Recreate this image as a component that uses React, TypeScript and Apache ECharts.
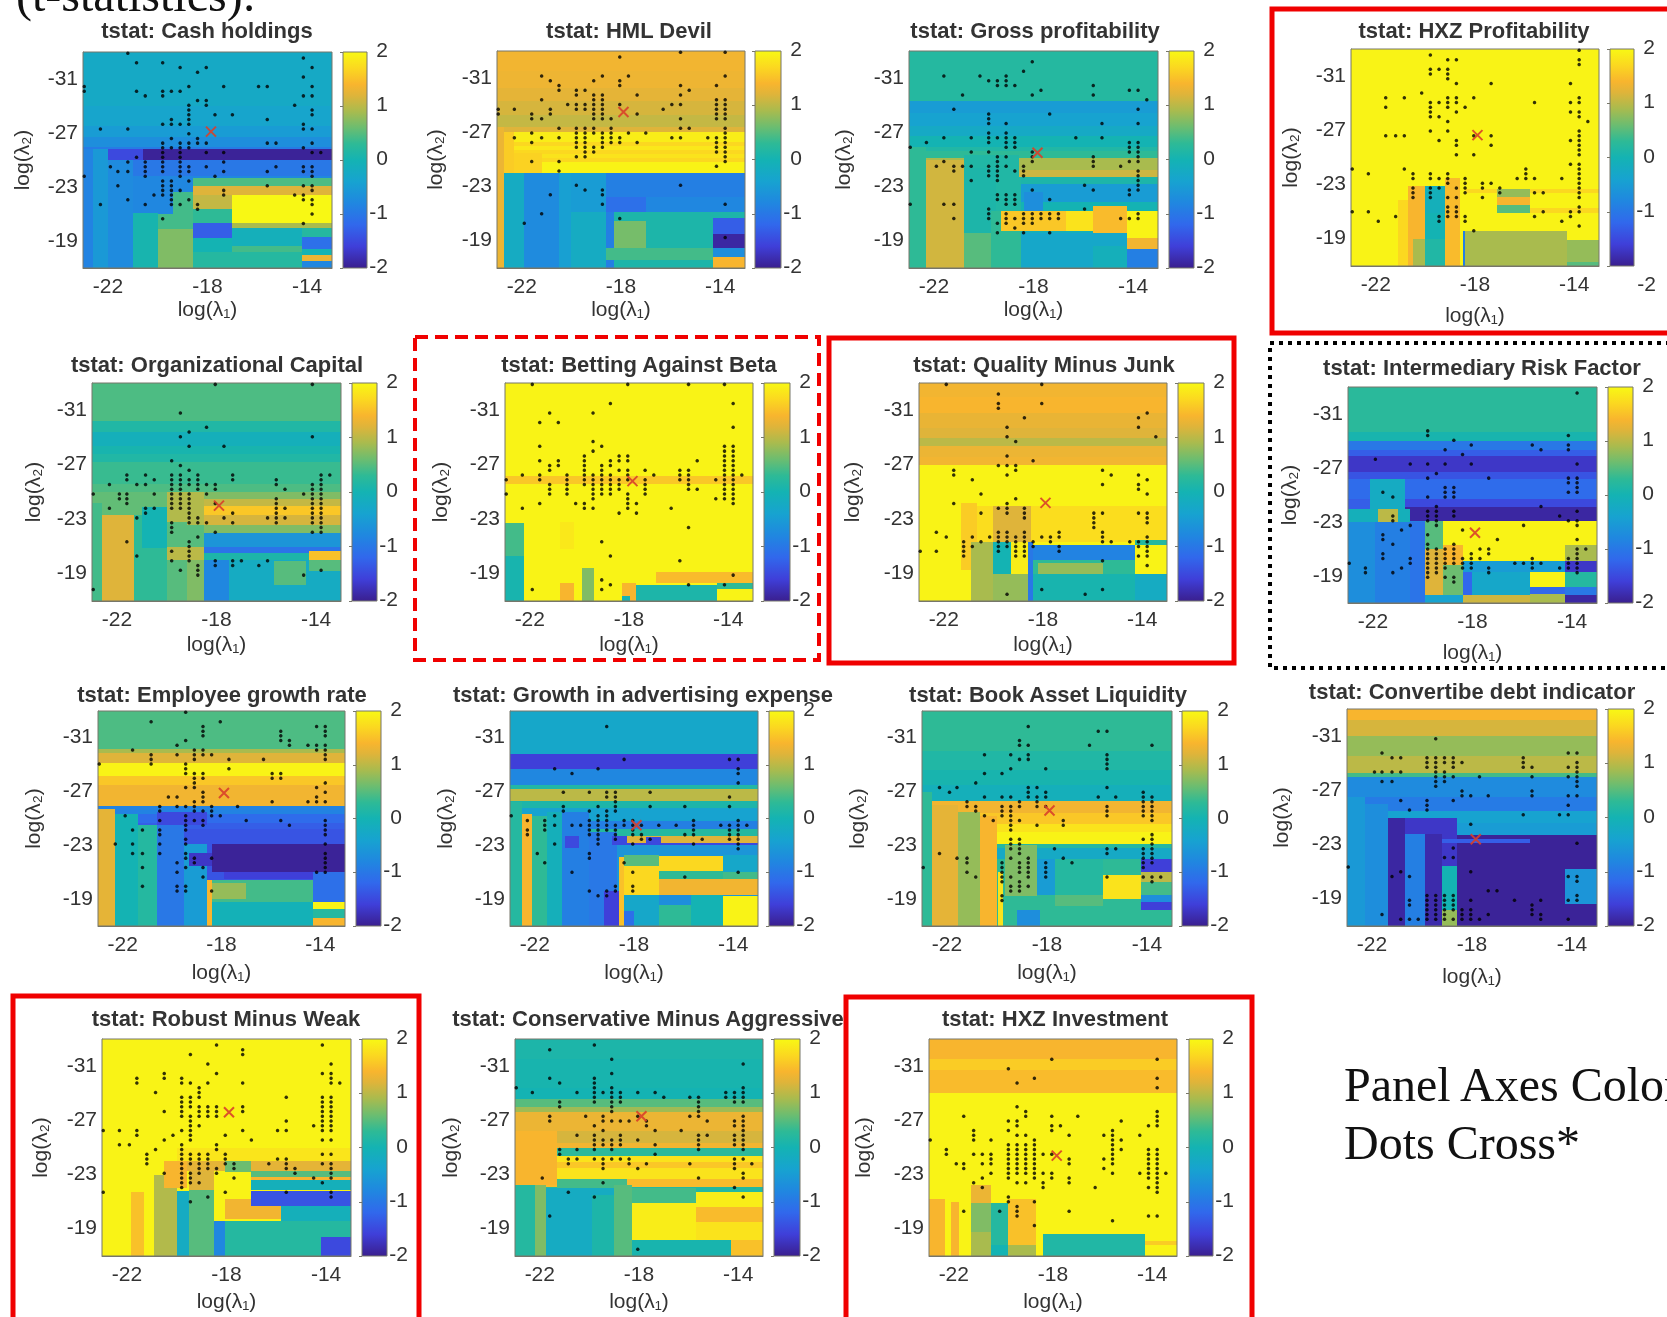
import React, { useEffect, useRef } from "react";
import * as echarts from "echarts";

// ---- shared sample grids of the two penalties (the dots sit on these) ----
const lambda1Grid = [-22.95,-22.6,-22.3,-21.9,-21.6,-21.2,-20.85,-20.5,-20.15,-19.8,-19.45,-19.1,-18.75,-18.4,-18.05,-17.7,-17.35,-17,-16.65,-16.3,-15.95,-15.6,-15.25,-14.9,-14.5,-14.15,-13.8,-13.45,-13.1];
const lambda2Grid = [-32.9,-32.55,-32.2,-31.85,-31.5,-31.15,-30.8,-30.45,-30.1,-29.75,-29.4,-29.05,-28.7,-28.35,-28,-27.65,-27.3,-26.95,-26.6,-26.25,-25.9,-25.55,-25.2,-24.85,-24.5,-24.15,-23.8,-23.45,-23.1,-22.75,-22.4,-22.05,-21.7,-21.35,-21,-20.65,-20.3,-19.95,-19.6,-19.25,-18.9,-18.55,-18.2,-17.85,-17.5,-17.15];
const xTicks = [-22, -18, -14];
const yTicks = [-31, -27, -23, -19];
const colorbarRange = [[0, 1, -2, 2]];
const colormap: [number, string][] = [[-2,"#3a1f8f"],[-1.6,"#3f3fd9"],[-1.2,"#3168ec"],[-0.8,"#2087e0"],[-0.4,"#17a3d0"],[0,"#14b3b3"],[0.3,"#2eba96"],[0.6,"#6cbd70"],[0.9,"#a9bb4e"],[1.2,"#dfb43a"],[1.4,"#f8b52e"],[1.7,"#fbd820"],[2,"#f8f814"]];

// ---- Cash holdings ----
const cashBands = [[-33,-0.25],[-29,-0.35],[-27.5,-0.5],[-26.7,-0.7],[-26,-0.95],[-25,-1.0],[-23.8,-0.8]];
const cashPatches = [[-23,-22.6,-25.8,-17,-0.85],[-22.6,-22,-25.8,-17,-0.55],[-22,-21,-25,-17,-0.75],[-22,-20.6,-25.8,-25,-1.5],[-20.6,-13,-25.8,-25,-1.95],[-21,-20,-21.1,-17,0.05],[-20,-18.6,-21,-17,0.4],[-20,-18.6,-19.9,-17,0.7],[-19.4,-18.6,-22.6,-21,0.4],[-18.6,-13,-23.7,-23.1,0.45],[-18.6,-13,-23.1,-22.4,1.2],[-18.6,-17,-22.4,-21.4,1.05],[-18.6,-17,-21.4,-20.3,0.3],[-18.6,-17,-20.3,-19.2,-1.3],[-18.6,-17,-19.2,-18.2,0],[-18.6,-17,-18.2,-17,0.2],[-17,-13,-22.4,-20.3,2],[-17,-13,-20.3,-20,0.9],[-17,-14.2,-20,-18.6,-0.1],[-17,-14.2,-18.6,-18.2,0.4],[-17,-14.2,-18.2,-17,0.2],[-14.2,-13,-20,-19.3,0.2],[-14.2,-13,-19.3,-18.4,-1.1],[-14.2,-13,-18.4,-18,0],[-14.2,-13,-18,-17.5,1.3],[-14.2,-13,-17.5,-17,-0.8]];
const cashDots = [[0,[5]],[1,[25]],[2,[6,9]],[3,[11,14,26]],[4,[13]],[5,[25]],[7,[0,12,16,20,21,26]],[8,[0,6,9,10,11]],[9,[7,9,25,26]],[10,[13,14]],[11,[12,14,24]],[12,[12,26]],[13,[12,15,17,26]],[14,[10,12,21]],[15,[9,10,11,12,25]],[16,[2,5,25,26]],[17,[12]],[18,[10,13]],[19,[9,11,12,13,14,21,22,26]],[20,[9,10,11,12,25]],[21,[9,11,14,16,26,27]],[22,[6,9,11]],[23,[5,7,9,11,16]],[24,[3,7,9,11,12,14,22,25,26]],[25,[4,5,7,9,11,12,16,21,25,26]],[26,[0,7,11,15,26]],[27,[9,10,12]],[28,[4,9,10,21,25,26]],[29,[9,10,11,16,26]],[30,[8,9,10,16,24,25]],[31,[5,10,12,25,26]],[32,[2,7,10,11,13,26]],[33,[13]],[34,[26]],[35,[9]],[36,[25]]];
const cashCross = [-17.86, -27.1];

// ---- HML Devil ----
const hmlBands = [[-33,1.35],[-31.5,1.32],[-30.3,1.25],[-29.3,1.15],[-28.3,1.05],[-27.4,1.2],[-27,1.9],[-26.3,1.7],[-26,1.85],[-25.7,1.7],[-25.4,1.8],[-25.1,1.7],[-24.8,1.95],[-24,-0.9]];
const hmlPatches = [[-22.7,-22.3,-27,-24,1.6],[-22.3,-21.2,-25.5,-24,1.65],[-23,-22.7,-27.4,-17,1.3],[-22.7,-21.9,-24,-17,-0.2],[-21.9,-20.5,-24,-17,-0.75],[-20.5,-20,-24,-17,-0.45],[-20,-18.6,-24,-21.1,-0.5],[-20,-18.6,-21.1,-17,-0.2],[-18.6,-13,-24,-22.2,-0.9],[-18.6,-17,-22.2,-21.1,-1.1],[-17,-13,-22.2,-21.1,-0.8],[-18.3,-14.3,-21.1,-17,0.1],[-18.3,-17,-20.5,-18.5,0.65],[-18.6,-14.3,-18.5,-17.6,0.4],[-14.3,-13,-21.1,-20.7,0.1],[-14.3,-13,-20.7,-19.5,-1.3],[-14.3,-13,-19.5,-18.5,-1.9],[-14.3,-13,-18.5,-17.8,-0.7],[-14.3,-13,-17.8,-17,1.4]];
const hmlDots = [[0,[21,26]],[1,[14]],[5,[5,12,15,26]],[6,[6,11,14]],[7,[7,14,21,25]],[8,[7,9,10,22]],[9,[9,11,12,16,21]],[10,[5,11,12,25,26]],[11,[8,9,10,11,12,14,20,21,25,26]],[12,[0,2,6,9,10,11,12,19,25,26]],[13,[0,4,6,11,12,16,25,26]],[14,[4,5,11,12,13,21,25,26]],[16,[7,9,10,11,13,21,22,26]],[17,[4,9,10,11,12,13,15,17,26]],[18,[2,5,7,9,10,12,13,14,20,21,24,25,26]],[19,[4,9,10,12,13,14,16,25,26]],[20,[9,10,11,12,25,26]],[21,[10,11,25,26]],[22,[9,10,26]],[23,[4,7,26]],[24,[25]],[25,[7]],[28,[9,21]],[29,[10,12]],[30,[6,12]],[32,[12,26]],[34,[5]],[35,[14]],[36,[3]],[39,[26]]];
const hmlCross = [-17.9, -28.5];

// ---- Gross profitability ----
const grossBands = [[-33,0.2],[-29.3,-0.5],[-28.4,-0.4],[-27.5,-0.25],[-26.75,0],[-25.9,0.15],[-25.6,0.3],[-25.1,0.9],[-24.2,1.1],[-23.7,0.1],[-23.2,-0.1]];
const grossPatches = [[-23,-22.3,-25.9,-17,0.3],[-20.8,-18.6,-25.3,-23.7,0.15],[-22.3,-20.8,-25,-17,1.12],[-20.8,-19.5,-24.4,-17,0.1],[-20.8,-19.7,-19.6,-17,0.5],[-19.7,-18.5,-21.2,-17,0.3],[-19.5,-18.5,-23.7,-21.2,0.15],[-18.5,-13,-23.2,-21.9,-0.5],[-18.5,-13,-21.9,-21.2,0],[-18.4,-17.6,-22.6,-21.2,-0.7],[-19.3,-15.6,-21.2,-19.7,1.55],[-16.7,-15.6,-21.2,-19.7,1.8],[-15.6,-14.25,-21.6,-19.6,1.45],[-14.25,-13,-21.2,-19.2,1.95],[-14.25,-13,-19.2,-18.4,1.35],[-14.25,-13,-18.4,-17,-0.9],[-18.5,-14.25,-19.6,-17,-0.3],[-15.6,-14.25,-18.6,-17,-0.1]];
const grossDots = [[2,[14]],[4,[13]],[5,[4,8,11]],[6,[9,10,11]],[7,[10,11,12,21]],[8,[15,25,26]],[9,[6,14,21]],[10,[27]],[12,[5,26]],[13,[9,16]],[14,[9]],[15,[9,11,22,26]],[17,[9,11]],[18,[4,7,9,10,11,12,19,22]],[19,[2,9,11,12,25,26]],[20,[0,11,12,25,26]],[21,[7,9,14,25,26]],[22,[10,11,14,21,26]],[23,[4,10,14,21,25,26]],[24,[3,5,6,7,9,10,11,13,21,24]],[25,[5,9,10,12,13,26]],[26,[9,10,13,26]],[27,[7,10,26]],[28,[20,26]],[29,[14,21,25,26]],[30,[10,11,12,25]],[31,[10,11,12,16]],[32,[0,4,5,11,12]],[33,[9,20]],[34,[9,11,13,14,15,16,17,26]],[35,[5,9,11,12,13,14,15,16,17,24,25,26]],[36,[10,11,13,14]],[37,[12]],[38,[10,13,16]]];
const grossCross = [-17.84, -25.5];

// ---- HXZ Profitability ----
const hxzProfBands = [[-33,1.95]];
const hxzProfPatches = [[-20.7,-20,-22.9,-17,1.4],[-21.1,-20.7,-21.9,-17,1.7],[-20,-19.2,-22.9,-20.9,-0.1],[-20,-19.2,-20.9,-19,0],[-20,-19.2,-19,-17,0.15],[-20.5,-20,-19,-17,0.9],[-19.2,-18.6,-23.5,-17,1.45],[-18.5,-18.4,-19.6,-17,-0.9],[-18.4,-14.3,-19.6,-17,0.9],[-14.3,-13,-18.9,-17.3,0.8],[-14.3,-13,-17.3,-17,0.5],[-18.4,-13,-22.7,-22.4,1.7],[-15.8,-13,-21.3,-20.9,1.7],[-17.1,-15.8,-22.7,-22.1,0.8],[-17.1,-15.8,-22.1,-21.5,1.4],[-17.1,-15.8,-21.5,-20.9,0.5]];
const hxzProfDots = [[0,[26]],[1,[9]],[2,[11,12,26]],[3,[26]],[4,[9,10,11]],[5,[9,11]],[6,[11]],[7,[12,16,25]],[9,[8]],[10,[4,6,11,12,14,26]],[11,[9,10,11,12,21,25,26]],[12,[4,9,11,13]],[13,[9,12,25,26]],[14,[9,10,26]],[15,[11,27]],[17,[9,11,26]],[18,[4,5,6,14,16,26]],[19,[10,12,25,26]],[20,[12,16,26]],[21,[26]],[22,[12,14,26]],[24,[25,26]],[25,[0,6,20,26]],[26,[2,7,9,11,20,26]],[27,[7,9,10,11,13,19,20,21,24,26]],[28,[11,13,15,16,26]],[29,[7,9,10,12,13,15,17,26]],[30,[7,9,13,17,21,22,26]],[31,[7,9,11,12,15,26]],[33,[11,12,26]],[34,[0,2,11,12,22,25,26]],[35,[5,10,11,12,13,21,25]],[36,[3,10,13,24]],[37,[26]],[38,[14]]];
const hxzProfCross = [-17.9, -26.65];

// ---- Organizational Capital ----
const orgBands = [[-33,0.45],[-30.2,0.15],[-29.4,-0.1],[-28.4,0.05],[-27.8,0.15],[-27.2,0.35],[-25.6,0.45],[-25,0.7],[-24.5,1.05],[-24,1.55],[-23.3,1.15],[-22.6,0.7],[-22,-0.6],[-21,-1.05],[-20.5,0.1],[-19.7,-0.1]];
const orgPatches = [[-23,-20,-25,-22.6,0.55],[-20,-18.5,-25,-22.6,0.95],[-23,-22.6,-24.2,-17,0.4],[-22.6,-21.3,-23.3,-17,1.2],[-21.3,-20,-23.3,-17,0.3],[-21,-20,-23.9,-20.9,0],[-20,-19.2,-22.8,-17,0.5],[-19.2,-18.5,-22.6,-21,0.5],[-20,-18.5,-21,-20,1.0],[-19.2,-18.5,-20,-17,0.7],[-18.5,-17.5,-20,-17,-0.8],[-17.5,-13,-20,-17,-0.2],[-15.7,-14.4,-19.9,-18.2,0.5],[-14.3,-13,-20.7,-20,1.5],[-14.3,-13,-20,-19.2,0.5]];
const orgDots = [[0,[14,25]],[6,[10]],[9,[13]],[10,[11]],[11,[10,25]],[13,[11,15]],[16,[9]],[17,[10]],[18,[11]],[19,[4,6,9,10,12,16,26,27]],[20,[4,7,9,10,11,12,16,21,26]],[21,[2,5,6,9,10,11,12,13,14,21,25,26]],[22,[9,10,12,14,22,25,26]],[23,[0,3,4,7,9,10,11,13,24,25,26]],[24,[3,4,9,10,11,21,25,26]],[25,[4,9,10,11,14,21,25,26]],[26,[2,6,7,9,10,11,21,22,25,26]],[27,[6,11,16,21,25,26]],[28,[5,11,12,15,20,21,22,25,26]],[29,[9,11,12,13,16,21,25,26]],[30,[9,26]],[31,[9,14,25,26]],[32,[12]],[33,[4,11]],[34,[11]],[35,[9,11]],[36,[5,11]],[37,[9,11,14,16,17,20]],[38,[12,14,16,19]],[39,[10,12,26]],[40,[12,24]],[43,[0]]];
const orgCross = [-17.9, -24];

// ---- Betting Against Beta ----
const babBands = [[-33,1.95],[-26.2,1.55],[-25.6,1.95]];
const babPatches = [[-23,-22.25,-22.75,-20.3,0.4],[-23,-22.25,-20.3,-17,0.05],[-20.8,-20.2,-18.3,-17,1.4],[-20.8,-20.2,-22.8,-20.8,1.85],[-19.9,-19.4,-19.4,-17,0.7],[-18.3,-17.7,-18.3,-17,1.4],[-18.3,-17.95,-17.4,-17,0],[-17.7,-14.45,-18.2,-17,0.1],[-16.9,-13,-19.1,-18.3,1.45],[-14.45,-13,-18.3,-17.9,0.3]];
const babDots = [[0,[3,14,21,25]],[4,[12,26]],[6,[5,10]],[8,[4,6]],[9,[26]],[12,[10]],[13,[4,11,25,26]],[14,[10,25,26]],[15,[9,13,14,25,26]],[16,[4,6,9,12,13,14,22,25,26]],[17,[5,6,9,11,12,25,26]],[18,[5,9,11,13,14,16,20,21,25,26]],[19,[2,4,7,9,10,11,12,14,17,20,21,25,26,27]],[20,[0,4,7,9,10,11,12,13,14,16,20,21,24,25,26]],[21,[5,7,9,10,11,12,13,16,21,25,26]],[22,[5,7,10,11,12,13,16,21,22,25,26]],[23,[0,5,7,10,11,12,14,16,25,26]],[24,[10,14,24,25,26]],[25,[4,8,9,14,15,26]],[26,[2,9,10,14,19]],[27,[13,15]],[30,[21]],[33,[11]],[36,[12]],[37,[20]],[40,[26]],[41,[11]],[42,[12,21,25]],[43,[3,11]]];
const babCross = [-17.86, -25.8];

// ---- Quality Minus Junk ----
const qmjBands = [[-33,1.35],[-32,1.4],[-30.8,1.28],[-29.7,1.2],[-29,1.0],[-28.4,1.3],[-27.6,1.35],[-27,1.95],[-24,1.75],[-21.3,1.95]];
const qmjPatches = [[-23,-21.3,-24,-17,1.95],[-21.3,-20.65,-24.2,-19.3,1.6],[-20.9,-19.9,-21.3,-17,0.9],[-20,-18.5,-24,-21.3,1.2],[-20,-19.3,-21.3,-19,0],[-19.3,-18.6,-21.3,-17,1.9],[-20,-18.6,-19,-17,0.8],[-18.6,-18.4,-21.3,-17,-1.0],[-18.4,-14.3,-21.1,-20,-0.85],[-18.4,-14.3,-20,-19,0.3],[-18.2,-15.6,-19.8,-19,0.8],[-18.4,-14.3,-19,-17,0.05],[-14.3,-13,-21.5,-21.1,0.2],[-14.3,-13,-21.1,-19,1.95],[-14.3,-13,-19,-17,-0.2]];
const qmjDots = [[0,[3,14]],[2,[9]],[4,[9,14]],[5,[9]],[6,[26]],[7,[12,25]],[9,[10,25]],[11,[10,27]],[12,[11]],[15,[10]],[16,[13]],[17,[9,10,11]],[18,[4,11,21]],[19,[4,10,22,25]],[20,[6,26]],[21,[21,25]],[22,[25]],[23,[7,26]],[24,[11]],[25,[4,10]],[26,[9,10,12]],[27,[7,10,12,20,21,25,26]],[28,[12,20,26]],[29,[20,26]],[30,[20]],[31,[2,9,10,12,16,21]],[32,[3,6,8,9,10,11,12,14,15,16,21,26]],[33,[5,7,9,10,11,12,13,15,21,22,24,25,26]],[34,[5,6,9,10,11,12,13,16,25,26]],[35,[0,2,5,9,11,12,16,26]],[36,[5,11,12,25,26]],[37,[21]],[38,[26]],[43,[14,21]],[44,[10,19]]];
const qmjCross = [-17.9, -24.2];

// ---- Intermediary Risk Factor ----
const irfBands = [[-33,0.25],[-29.7,0.05],[-29,-1.0],[-28.3,-1.3],[-27.9,-1.7],[-26.7,-1.4],[-26.2,-1.15],[-24.7,-1.5],[-24.1,-1.9],[-23.1,-0.9]];
const irfPatches = [[-22.1,-20.7,-26.2,-24,-0.2],[-23,-22.1,-24.7,-24,-1.3],[-23,-20.5,-24,-23,-0.1],[-21.8,-21,-24,-23,1.0],[-23,-21.9,-23,-17,-0.7],[-21.9,-20.5,-23,-17,-0.9],[-20.5,-19.9,-23,-17,-1.05],[-19.9,-19.2,-23.1,-21,0.5],[-19.9,-19.2,-21,-17.6,1.2],[-19.2,-18.4,-21.3,-19.8,1.4],[-19.2,-18.4,-19.8,-17.6,0.6],[-19.2,-13,-23.1,-21.3,1.95],[-18.4,-14.3,-21.3,-20.1,1.95],[-14.3,-13,-21.3,-20.1,0.9],[-18.4,-13,-20.1,-19.3,-0.5],[-14.3,-13,-20.1,-19.3,-1.7],[-18.4,-18,-19.3,-17.6,-1.2],[-18,-15.7,-19.3,-17.6,-0.3],[-15.7,-14.3,-19.3,-18.2,1.95],[-15.7,-14.3,-18.2,-17.7,-1.2],[-14.3,-13,-19.3,-18.2,0.2],[-14.3,-13,-18.2,-17.6,-1.0],[-14.3,-13,-17.6,-17,-1.9],[-19.9,-18.4,-17.6,-17,-0.4],[-18.4,-15.7,-17.6,-17,1.1],[-15.7,-14.3,-17.7,-17,0.9]];
const irfDots = [[1,[26]],[9,[9]],[10,[9,25]],[11,[12]],[12,[14,21,25]],[13,[11,22,25]],[14,[13]],[15,[3]],[16,[7,9,11,14,26]],[18,[10]],[19,[9,16,25,26]],[20,[25,26]],[21,[11,12,26]],[22,[4,11,12,25,26]],[23,[5,9,11,12]],[25,[10,22]],[26,[9,10,12,26]],[27,[5,9,10,12,24]],[28,[5,9,10,25,26]],[29,[7,10,20,26]],[30,[6,13]],[31,[4,9]],[32,[4,17,26]],[33,[5,9,12]],[34,[9,10,11,12,15,16,26,27]],[35,[4,9,10,11,12,14,16,26]],[36,[4,7,9,10,11,12,13,14,15,21,25,26]],[37,[0,7,9,10,11,12,13,14,19,20,21,22,25,26]],[38,[2,6,9,10,11,13,14,16,21,24,25,26]],[39,[2,5,9,10,16,26]],[40,[9,11,12]],[41,[12]]];
const irfCross = [-17.9, -22.2];

// ---- Employee growth rate ----
const empBands = [[-33,0.45],[-30.2,0.9],[-29.9,1.2],[-29.1,1.95],[-28.2,1.55],[-27.5,1.35],[-25.9,-0.85],[-25.3,-1.15],[-24.7,-1.3],[-24.2,-1.4]];
const empPatches = [[-23,-22.3,-25.7,-17,1.25],[-22.3,-21.4,-25.3,-17,0],[-21.4,-20.6,-24.5,-17,0.2],[-20.6,-19.5,-25.5,-17,-1.0],[-19.5,-18.6,-23.1,-17,-0.5],[-20.6,-18.6,-25.5,-24.5,-1.5],[-19.3,-18.4,-22.4,-21.5,-1.7],[-18.4,-13,-23.1,-21,-1.95],[-17.9,-13,-21,-20.5,-1.6],[-18.6,-14.3,-20.4,-18.8,0.4],[-18.6,-17,-20.2,-19,0.8],[-18.6,-14.3,-18.8,-17,-0.05],[-18.6,-18.4,-20.4,-17,1.4],[-14.3,-13,-21,-18.8,-1.1],[-14.3,-13,-18.8,-18.3,1.95],[-14.3,-13,-18.3,-17.6,0.2],[-14.3,-13,-17.6,-17,1.4]];
const empDots = [[0,[10]],[2,[6,14]],[3,[12,25,26]],[4,[12,21,26]],[5,[12,21,26]],[6,[10,21,22]],[7,[9,22,24,25,26]],[8,[4,11,12,25,26]],[9,[6,9,11,12,13,26]],[10,[6,11,15,19,26]],[11,[0,6,10]],[12,[10,15]],[13,[10,11,12,20,21]],[14,[11,12,20,21]],[15,[11,26]],[16,[10,11,25]],[17,[12,26]],[18,[8,9,12,25]],[19,[11,12,20,24,25,26]],[20,[7,9,10,11,13,16]],[21,[7,11,12,13]],[22,[3,10,13,14]],[23,[7,10,11,12,17,21,26]],[24,[10,12,22,26]],[25,[4,5,7,10,26]],[26,[7,26]],[27,[10]],[28,[2,4,7,10,26]],[30,[4,5,7,10,26]],[31,[10,11,13,26]],[32,[9,11,26]],[33,[5,10,12,26]],[34,[9,25,26]],[35,[12]],[37,[5,9,10]],[38,[9,10,13]]];
const empCross = [-17.9, -26.9];

// ---- Growth in advertising expense ----
const advBands = [[-33,-0.3],[-29.8,-1.6],[-28.7,-0.8],[-27.5,0.15],[-27.2,1.0],[-26.3,0.1],[-25.8,-0.4],[-24.8,-0.9],[-24.2,0.2],[-23.7,1.2],[-23.2,-1.5],[-23,-0.6]];
const advPatches = [[-23,-22.5,-26.2,-17,0.2],[-22.5,-22.1,-25.3,-17,1.4],[-22.1,-21.5,-25.2,-17,0.3],[-21.5,-20.9,-25.5,-17,-0.1],[-20.9,-19.8,-25.5,-17,-0.9],[-20.8,-20.2,-23.7,-22.8,-1.5],[-19.8,-18.7,-24,-17,-1.0],[-19.2,-18.5,-19.6,-17,-1.6],[-18.6,-18.4,-22.1,-17,1.5],[-18.9,-18.3,-23.7,-23,-1.5],[-17.5,-16.9,-23.6,-23,-1.5],[-18.4,-17,-22.3,-21.5,0.5],[-17,-14.4,-22.2,-21.1,1.7],[-14.4,-13,-22.3,-21,-0.3],[-18.4,-17,-21.5,-19.3,1.7],[-17,-13,-20.5,-19.3,1.35],[-17,-14.4,-21.1,-20.5,0.3],[-14.4,-13,-21,-20.5,0.4],[-18.4,-17,-19.3,-17,-0.3],[-17,-15.7,-19.3,-18.6,-0.7],[-17,-15.7,-18.6,-17,0.3],[-15.7,-14.4,-19.3,-17,0],[-14.4,-13,-19.2,-17,1.95],[-18.4,-18,-18.1,-17,-1.1]];
const advDots = [[3,[11]],[10,[13,25,26]],[12,[5,10,26]],[13,[7,26]],[15,[26]],[17,[6,9,11,12,16]],[18,[11,12,25]],[19,[12]],[20,[6,10,12,16,20,25]],[21,[6,9,11,12]],[22,[0,5,10,11]],[23,[2,4,9,10,11,13,14,21,26]],[24,[4,5,7,8,9,10,11,12,13,14,15,17,19,21,24,25,26,27]],[25,[2,4,9,10,11,12,14,21,25,26]],[26,[2,9,10,12,14,15,20,21,25,26]],[27,[10,12,15,16,22,25,26]],[28,[5,10,14,21,26]],[29,[26]],[30,[3,9]],[31,[9]],[32,[4,13]],[34,[7,14,26]],[35,[20]],[37,[12,14]],[38,[9,11,12,14]],[39,[10,11]]];
const advCross = [-17.9, -24.5];

// ---- Book Asset Liquidity ----
const bookBands = [[-33,0.3],[-30,0.15],[-28.6,0.05],[-27.5,-0.1],[-26.3,1.35],[-25.4,1.55],[-24.6,1.8],[-24,1.95],[-23.1,0.2],[-22.8,-0.25],[-22,0.3]];
const bookPatches = [[-23,-22.6,-27,-17,0.3],[-22.6,-21.55,-26,-17,1.25],[-21.55,-20.7,-25.5,-17,0.8],[-20.7,-20,-25.2,-17,1.4],[-19.95,-19.75,-21,-17,1.8],[-19.7,-18.4,-23,-19.2,0.7],[-19.7,-18.4,-19.2,-18.2,0.3],[-19.2,-18.3,-18.2,-17,-0.7],[-18.4,-17.7,-22,-19.3,-0.5],[-17.7,-15.75,-22,-19.3,0.2],[-17.7,-15.75,-19.3,-18.5,0.5],[-15.75,-14.25,-20.8,-19,1.8],[-18.3,-14.25,-18.2,-17,0.3],[-14.25,-13,-22,-21,-1.6],[-14.25,-13,-21,-20.3,1.0],[-14.25,-13,-20.3,-19.3,0.4],[-14.25,-13,-19.3,-18.8,-0.7],[-14.25,-13,-18.8,-18.2,-1.6],[-14.25,-13,-18.2,-17,0.3]];
const bookDots = [[3,[12]],[4,[20,21]],[6,[11]],[7,[11,12,19,26]],[9,[7,10,12,21]],[10,[11,12,21]],[11,[21]],[12,[10,14,21]],[13,[7,9]],[15,[6]],[16,[2,4,12,13,21]],[17,[3,12,14,25]],[18,[7,9,10,12,13,14,20,22,25,26]],[19,[5,11,13,25,26]],[20,[5,6,9,10,11,13,14,21,25,26]],[21,[6,9,10,21,25,26]],[22,[7,9,10,21,25,26]],[23,[8,10,11,16,26]],[24,[10,13,16]],[25,[10]],[26,[26]],[27,[10,11,25,26]],[28,[10,11,26]],[29,[10,11,15,21,22,25,26]],[30,[2,11,21,25,26]],[31,[4,5,10,12,16,25,26]],[32,[5,9,11,12,14,17,25,26]],[33,[0,9,11,12,14,25]],[34,[5,9,11,12,14]],[35,[6,9,10,12,14,21,25,26,27]],[36,[9,11,26]],[37,[10,11,12]],[38,[10,11]],[39,[9]],[40,[9]]];
const bookCross = [-17.9, -25.6];

// ---- Convertibe debt indicator ----
const convBands = [[-33,1.4],[-32.2,1.15],[-31,0.8],[-29.5,1.0],[-28.3,0.4],[-28,-0.75],[-26.5,-0.95],[-25.5,-0.4],[-24.6,-0.5]];
const convPatches = [[-23,-22.3,-26.5,-17,-0.55],[-22.3,-21.35,-26,-17,-0.7],[-21.35,-20.7,-25,-17,-1.9],[-20.7,-19.9,-24.2,-17,-0.9],[-20.7,-18.6,-25,-23.8,-1.7],[-19.9,-19.2,-23.8,-17,-1.85],[-19.2,-18.6,-23.8,-21.4,-1.7],[-19.2,-18.6,-21.4,-18.2,0],[-19.2,-18.6,-18.2,-17,0.8],[-18.6,-13,-23.7,-17,-1.95],[-19.2,-15.7,-23.4,-23.15,-1.3],[-14.3,-13,-21.2,-18.6,-0.6]];
const convDots = [[6,[10]],[9,[4,25,26]],[10,[5,6,9,10,11,12,20]],[11,[9,10,11,12,13,20,26]],[12,[9,10,12,20,21,25,26]],[13,[3,4,5,6,10,11,26]],[14,[10,11,12,15,21,25,26]],[15,[4,5,10,11,26]],[16,[10,26]],[17,[13,21]],[18,[13,14,16,21,25,26]],[19,[6,9,12]],[20,[9,25]],[21,[7,9]],[22,[20,24,25]],[24,[14]],[28,[26]],[29,[12]],[31,[11,12]],[33,[0]],[34,[6,14]],[35,[5,7,25,26]],[36,[26]],[38,[16,17]],[39,[9,10,11,12,26]],[40,[7,9,10,11,12,14,19,22,25,26]],[41,[7,9,10,11,12,21]],[42,[9,10,11,12,13,14,21]],[43,[4,9,10,11,13,14,16,21,22]],[44,[6,7,8,9,10,11,12,13,14,15,22,25]]];
const convCross = [-17.85, -23.4];

// ---- Robust Minus Weak ----
const rmwBands = [[-33,1.95]];
const rmwPatches = [[-21.85,-21.3,-21.7,-17,1.5],[-20,-13,-25,-24,1.82],[-20.5,-13,-24,-23.3,1.25],[-17,-13,-23.3,-22.8,0.5],[-17,-13,-22.8,-22.6,1.4],[-20.9,-20,-23,-17,0.95],[-20.5,-19.6,-24,-22,1.4],[-20,-19.5,-21.8,-17,-0.2],[-19.5,-18.5,-22.3,-17,0.5],[-19.5,-18.5,-23.3,-21.9,1.2],[-18.5,-17,-23,-21.8,1.95],[-18.05,-17,-24,-23.2,0.6],[-18.05,-15.8,-21.2,-19.7,1.35],[-18.5,-18.05,-19.6,-17,-0.8],[-18.05,-13,-19.6,-17,0.2],[-17,-13,-22.6,-21.9,-0.1],[-17,-13,-21.8,-20.7,-1.4],[-15.8,-13,-20.7,-19.6,-0.1],[-14.2,-13,-18.4,-17,-1.5]];
const rmwDots = [[1,[13,25]],[2,[16]],[3,[10,16]],[5,[12,26]],[7,[7,13,25,26]],[8,[4,7,9,26]],[9,[4,9,10,12,16,26,27]],[10,[11]],[11,[6,11]],[12,[9,10,11,21,25,26]],[13,[9,10,25,26]],[14,[9,10,11,12,13,16,25,26]],[15,[7,9,11,12,13,16,25,26]],[16,[9,10,11,12,13,25,26]],[17,[10,21,25,26]],[18,[10,11,24,25,26]],[19,[0,2,4,9,10,16,20,21,25,26]],[20,[4,8,10,14]],[21,[7,10,17,25,26]],[22,[2,3,9,13]],[23,[6,9,13]],[24,[5,9,10,11,12,14,25,26]],[25,[5,9,10,11,12,14,20,21]],[26,[5,9,10,11,12,14,15,19,21,25,26]],[27,[9,11,12,13,15,21,22,26]],[28,[7,9,10,11,13,22,26]],[29,[9,10,15,24,26]],[30,[9,10,11,25]],[31,[9]],[32,[0,14,21,26]],[33,[12,26]],[34,[10]]];
const rmwCross = [-17.9, -27.6];

// ---- Conservative Minus Aggressive ----
const cmaBands = [[-33,0.1],[-31.5,0.05],[-29.4,0],[-28.6,0.5],[-28,0.85],[-27.6,1.3],[-26.2,1.15],[-25.3,1.35],[-25,0.25],[-24.4,1.8],[-23.9,1.55],[-23.5,1.8],[-22.7,1.45],[-22.1,0.2],[-21.7,1.9]];
const cmaPatches = [[-23,-21.3,-26.2,-22.2,1.4],[-23,-22.2,-22.2,-17,0.2],[-22.2,-21.75,-22.2,-17,0.7],[-21.75,-19,-22,-17,-0.2],[-19.9,-19,-21.5,-17,0.1],[-21.3,-18.5,-22.7,-22,0.4],[-19,-18.3,-22.2,-17,0.5],[-18.3,-15.7,-22,-20.9,0.4],[-18.3,-15.7,-20.9,-18.2,1.9],[-15.7,-13,-21.5,-20.6,1.9],[-15.7,-13,-20.6,-19.5,1.45],[-15.7,-13,-19.5,-18.2,1.8],[-18.3,-14.3,-18.2,-17,0.05],[-14.3,-13,-18.2,-17,1.5]];
const cmaDots = [[1,[9]],[2,[4]],[4,[11]],[5,[26]],[7,[11]],[8,[4,9]],[9,[5,9]],[10,[0,9,11,26]],[11,[2,7,9,10,11,12,14,16,24,25,26]],[12,[9,11,12,17,20,21,24,25,26]],[13,[5,9,11,12,21,25,26]],[14,[5,11,21]],[15,[11,21]],[16,[4,8,10,14,20,21,26]],[17,[4,10,11,12,13,15,22,25,26]],[18,[9,15,25,26]],[19,[10,16,19,26]],[20,[7,9,12,21,22,25,26]],[21,[9,10,11,12,14,21,25,26]],[22,[9,10,11,12,16,21,25,26]],[23,[5,7,9,11,21,26]],[24,[5,16]],[25,[6,7,9,10,11,12,13,25,26]],[26,[6,10,13,15,20,25,27]],[27,[10,14,25]],[28,[26]],[29,[3,21,26]],[30,[10]],[31,[25]],[32,[6]],[33,[9,26]],[37,[4]],[44,[14]]];
const cmaCross = [-17.9, -27.3];

// ---- HXZ Investment ----
const hxzInvBands = [[-33,1.4],[-31.5,1.6],[-30.7,1.45],[-29,1.95]];
const hxzInvPatches = [[-23,-22.35,-21.2,-17,1.4],[-22.1,-21.8,-21,-17,1.4],[-21.3,-20.5,-22.2,-17,1.3],[-21.3,-19.8,-20.9,-18.8,0.7],[-20.5,-19.8,-20.9,-17.8,0.2],[-21.3,-20.5,-18.8,-17,0.9],[-20.5,-19.8,-17.8,-17,0],[-19.8,-18.7,-21.2,-17.8,1.5],[-19.8,-18.7,-17.8,-17,0.9],[-18.4,-14.3,-18.6,-17,0.15],[-14.3,-13,-18.1,-17.8,1.6]];
const hxzInvDots = [[4,[14,26]],[6,[9]],[8,[12,26]],[9,[10]],[10,[26]],[14,[10]],[15,[11,26]],[16,[4,11,14,17,26]],[17,[9,10,22,26]],[18,[10,14,15,25,26]],[19,[5,9,14,21]],[20,[5,10,11,16,20,21,24]],[21,[0,5,7,12,21,22]],[22,[9,10,11,12,21]],[23,[2,9,10,11,12,21,22,25,26]],[24,[2,5,6,7,9,10,11,12,13,14,21,25,26]],[25,[7,9,10,11,12,16,20,21,25,26]],[26,[3,4,6,7,9,10,11,12,16,21,25,26]],[27,[4,9,10,11,12,20,25,26]],[28,[7,9,10,11,12,13,14,21,24,25,26,27]],[29,[6,9,12,14,16,25,26]],[30,[5,10,11,13,16,26]],[31,[6,13,19,25,26]],[32,[26]],[33,[9]],[34,[9,12]],[35,[10]],[36,[4,8,10,16]],[37,[10,25,26]],[38,[21]],[39,[12]]];
const hxzInvCross = [-17.85, -24.4];

const panelContent: any[] = [
  ["tstat: Cash holdings", cashBands, cashPatches, cashDots, cashCross],
  ["tstat: HML Devil", hmlBands, hmlPatches, hmlDots, hmlCross],
  ["tstat: Gross profitability", grossBands, grossPatches, grossDots, grossCross],
  ["tstat: HXZ Profitability", hxzProfBands, hxzProfPatches, hxzProfDots, hxzProfCross],
  ["tstat: Organizational Capital", orgBands, orgPatches, orgDots, orgCross],
  ["tstat: Betting Against Beta", babBands, babPatches, babDots, babCross],
  ["tstat: Quality Minus Junk", qmjBands, qmjPatches, qmjDots, qmjCross],
  ["tstat: Intermediary Risk Factor", irfBands, irfPatches, irfDots, irfCross],
  ["tstat: Employee growth rate", empBands, empPatches, empDots, empCross],
  ["tstat: Growth in advertising expense", advBands, advPatches, advDots, advCross],
  ["tstat: Book Asset Liquidity", bookBands, bookPatches, bookDots, bookCross],
  ["tstat: Convertibe debt indicator", convBands, convPatches, convDots, convCross],
  ["tstat: Robust Minus Weak", rmwBands, rmwPatches, rmwDots, rmwCross],
  ["tstat: Conservative Minus Aggressive", cmaBands, cmaPatches, cmaDots, cmaCross],
  ["tstat: HXZ Investment", hxzInvBands, hxzInvPatches, hxzInvDots, hxzInvCross],
];

// layout only: left, top, right, bottom, colorbar left, colorbar right, title x, title y, x-name offset, y-name offset
const layout = [
  [83,52,332,268,343,367,207,31,40,61],
  [497,51,745,268,755,781,629,31,40,62],
  [909,51,1158,268,1169,1194,1035,31,40,66],
  [1351,49,1599,266,1610,1634,1474,31,48,61],
  [92,383,341,601,352,377,217,365,42,59],
  [505,383,753,601,764,790,639,365,42,65],
  [919,383,1167,601,1178,1204,1044,365,42,67],
  [1348,387,1597,603,1608,1633,1482,368,48,59],
  [98,711,345,926,356,381,222,695,45,65],
  [510,711,758,926,769,794,643,695,45,65],
  [922,711,1172,926,1182,1208,1048,695,45,65],
  [1347,709,1597,926,1608,1634,1472,692,49,66],
  [102,1039,351,1256,362,387,226,1019,44,62],
  [515,1039,763,1256,774,800,648,1019,44,65],
  [929,1039,1177,1256,1189,1213,1055,1019,44,66],
];

const SANS = '"Liberation Sans", Arial, sans-serif';
const SERIF = '"Liberation Serif", "Times New Roman", serif';
const INK = "#333333";
const EDGE = "#77776a";

const rgb = (h: string) => [1, 3, 5].map((i) => parseInt(h.slice(i, i + 2), 16));
function colorOf(v: number) {
  for (let i = 1; i < colormap.length; i++) {
    if (v <= colormap[i][0]) {
      const [a, ca] = colormap[i - 1];
      const [b, cb] = colormap[i];
      const t = Math.max(0, (v - a) / (b - a));
      const A = rgb(ca), B = rgb(cb);
      return `rgb(${A.map((x, j) => Math.round(x + (B[j] - x) * t)).join(",")})`;
    }
  }
  return colormap[colormap.length - 1][1];
}

function cells(bands: number[][], patches: number[][]) {
  const rows = bands.map((b, i) => [-23, -13, b[0], i + 1 < bands.length ? bands[i + 1][0] : -17, b[1]]);
  return [...rows, ...patches];
}
function expandDots(rows: any[]) {
  return rows.flatMap(([r, ks]: any) => ks.map((k: number) => [lambda1Grid[k], lambda2Grid[r]]));
}
function rectFrom(api: any) {
  const a = api.coord([api.value(0), api.value(2)]);
  const b = api.coord([api.value(1), api.value(3)]);
  const x0 = Math.round(Math.min(a[0], b[0])), x1 = Math.round(Math.max(a[0], b[0]));
  const y0 = Math.round(Math.min(a[1], b[1])), y1 = Math.round(Math.max(a[1], b[1]));
  return { x: x0, y: y0, width: x1 - x0, height: y1 - y0 };
}
const renderCell = (_: any, api: any) => ({ type: "rect", shape: rectFrom(api), style: { fill: colorOf(api.value(4)) } });
const renderFrame = (_: any, api: any) => ({ type: "rect", shape: rectFrom(api), style: { fill: "none", stroke: EDGE, lineWidth: 1 } });
const barGradient = new echarts.graphic.LinearGradient(0, 0, 0, 1, colormap.map(([v, c]) => ({ offset: (2 - v) / 4, color: c })).reverse());
const renderBar = (_: any, api: any) => ({ type: "rect", shape: rectFrom(api), style: { fill: barGradient, stroke: EDGE, lineWidth: 1 } });

function buildOption() {
  const grid: any[] = [], xAxis: any[] = [], yAxis: any[] = [], series: any[] = [], title: any[] = [];
  const labelStyle = { color: INK, fontFamily: SANS, fontSize: 21 };
  panelContent.forEach(([name, bands, patches, dots, cross], i) => {
    const [l, t, r, b, cl, cr, tx, ty, xOff, yOff] = layout[i];
    title.push({ text: name, left: tx, top: ty - 12, textAlign: "center", padding: 0, textStyle: { color: INK, fontFamily: SANS, fontSize: 22, fontWeight: "bold" } });
    const g = grid.length;
    grid.push({ left: l, top: t, width: r - l, height: b - t });
    xAxis.push({
      gridIndex: g, type: "value", min: -23, max: -13, splitLine: { show: false },
      axisLine: { show: true, lineStyle: { color: EDGE } },
      axisTick: { show: true, inside: true, length: 3, customValues: xTicks, lineStyle: { color: EDGE } },
      axisLabel: { ...labelStyle, margin: 7, customValues: xTicks, formatter: (v: number) => String(v) },
      name: "log(λ₁)", nameLocation: "middle", nameGap: xOff - 10, nameTextStyle: { ...labelStyle },
    });
    yAxis.push({
      gridIndex: g, type: "value", inverse: true, min: -33, max: -17, splitLine: { show: false },
      axisLine: { show: true, lineStyle: { color: EDGE } },
      axisTick: { show: true, inside: true, length: 3, customValues: yTicks, lineStyle: { color: EDGE } },
      axisLabel: { ...labelStyle, margin: 5, verticalAlign: "bottom", lineHeight: 4, customValues: yTicks, formatter: (v: number) => String(v) },
      name: "log(λ₂)", nameLocation: "middle", nameRotate: 90, nameGap: yOff - 10, nameTextStyle: { ...labelStyle },
    });
    series.push({ type: "custom", xAxisIndex: g, yAxisIndex: g, silent: true, renderItem: renderCell, encode: { x: [0, 1], y: [2, 3] }, data: cells(bands, patches) });
    series.push({ type: "custom", xAxisIndex: g, yAxisIndex: g, silent: true, renderItem: renderFrame, encode: { x: [0, 1], y: [2, 3] }, data: [[-23, -13, -33, -17]] });
    series.push({ type: "scatter", xAxisIndex: g, yAxisIndex: g, silent: true, symbol: "circle", symbolSize: 3.5, itemStyle: { color: "#000000" }, data: expandDots(dots) });
    series.push({ type: "scatter", xAxisIndex: g, yAxisIndex: g, silent: true, symbol: "path://M0 0L10 10M10 0L0 10", symbolSize: 10, itemStyle: { color: "none", borderColor: "#d8402a", borderWidth: 2, opacity: 0.9 }, data: [cross] });

    const c = grid.length;
    grid.push({ left: cl, top: t, width: cr - cl, height: b - t });
    xAxis.push({ gridIndex: c, type: "value", min: 0, max: 1, show: false });
    yAxis.push({
      gridIndex: c, type: "value", position: "right", min: -2, max: 2, interval: 1, splitLine: { show: false },
      axisLine: { show: false },
      axisTick: { show: true, inside: true, length: 3, lineStyle: { color: EDGE } },
      axisLabel: { ...labelStyle, align: "right", margin: 21, verticalAlign: "bottom", lineHeight: 5, formatter: (v: number) => (i === 3 && v === -2 ? "" : String(v)) },
    });
    series.push({ type: "custom", xAxisIndex: c, yAxisIndex: c, silent: true, renderItem: renderBar, encode: { x: [0, 1], y: [2, 3] }, data: colorbarRange });
  });

  const box = (x: number, y: number, w: number, h: number, stroke: string, lineWidth: number, lineDash?: number[]) => ({
    type: "rect", z: 50, shape: { x, y, width: w, height: h }, style: { fill: "none", stroke, lineWidth, lineDash },
  });
  const serif = (text: string, x: number, y: number) => ({
    type: "text", z: 60, x, y, style: { text, fill: "#111", font: `48px ${SERIF}`, textVerticalAlign: "middle" },
  });
  const graphic = [
    box(1272, 9, 440, 324, "#f00000", 5),
    box(829, 338, 405, 325, "#f00000", 5),
    box(13, 996, 406, 400, "#f00000", 5),
    box(846, 997, 406, 400, "#f00000", 5),
    box(415, 337, 404, 323, "#f00000", 4, [13, 7]),
    box(1270, 343, 440, 325, "#000000", 4, [4, 5]),
    serif("(t-statistics):", 16, -6),
    serif("Panel Axes Color", 1344, 1084),
    serif("Dots Cross*", 1344, 1142),
    { type: "text", z: 60, x: 1656, y: 283, style: { text: "-2", fill: INK, font: `21px ${SANS}`, textAlign: "right", textVerticalAlign: "middle" } },
  ];
  return { animation: false, backgroundColor: "#ffffff", title, grid, xAxis, yAxis, series, graphic };
}

export default function App() {
  const ref = useRef<HTMLDivElement>(null);
  useEffect(() => {
    document.body.style.margin = "0";
    const chart = echarts.init(ref.current!, undefined, { renderer: "svg" });
    chart.setOption(buildOption());
    return () => chart.dispose();
  }, []);
  return <div ref={ref} style={{ position: "absolute", left: 0, top: 0, width: 1667, height: 1317, overflow: "hidden", filter: "blur(0.6px)" }} />;
}
